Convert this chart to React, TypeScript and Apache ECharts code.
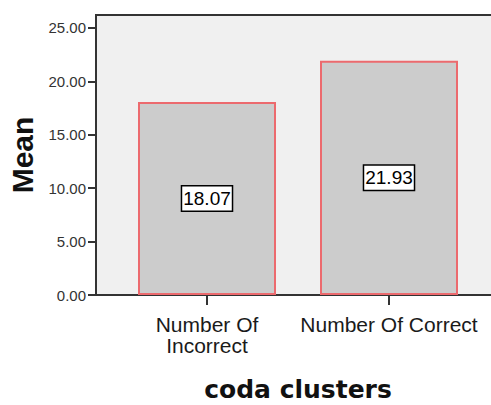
import React, { useEffect, useRef } from "react";
import * as echarts from "echarts";

const categories = ["Number Of\nIncorrect", "Number Of Correct"];
const means = [18.07, 21.93];
const yTicks = [0, 5, 10, 15, 20, 25];

export default function App() {
  const ref = useRef<HTMLDivElement>(null);
  useEffect(() => {
    if (!ref.current) return;
    const chart = echarts.init(ref.current, null, { renderer: "svg" });
    chart.setOption({
      animation: false,
      backgroundColor: "#ffffff",
      graphic: [
        {
          type: "rect",
          z: 0,
          shape: { x: 96, y: 15, width: 400, height: 280 },
          style: { fill: "#f0f0f0", stroke: "#333333", lineWidth: 2 },
          silent: true,
        },
      ],
      grid: {
        left: 116,
        right: 11,
        top: 15,
        bottom: 110,
        containLabel: false,
        outerBoundsMode: "none",
      },
      xAxis: {
        type: "category",
        data: categories,
        axisLine: { show: false },
        axisTick: {
          show: true,
          alignWithLabel: true,
          length: 10,
          lineStyle: { color: "#333333", width: 2 },
        },
        axisLabel: {
          margin: 19,
          interval: 0,
          color: "#1a1a1a",
          fontFamily: "Liberation Sans, Arial, sans-serif",
          fontSize: 21,
          lineHeight: 21,
        },
        name: "coda clusters",
        nameLocation: "middle",
        nameGap: 82,
        nameTextStyle: {
          color: "#111111",
          fontFamily: "DejaVu Sans, Verdana, sans-serif",
          fontWeight: "bold",
          fontSize: 25,
          lineHeight: 24,
        },
      },
      yAxis: {
        type: "value",
        min: 0,
        max: 26.2,
        interval: 5,
        offset: 20,
        splitLine: { show: false },
        axisLine: { show: true, lineStyle: { color: "#333333", width: 2 } },
        axisTick: {
          show: true,
          length: 8,
          customValues: yTicks,
          lineStyle: { color: "#333333", width: 2 },
        },
        axisLabel: {
          customValues: yTicks,
          margin: 10,
          color: "#333333",
          fontFamily: "Liberation Sans, Arial, sans-serif",
          fontSize: 15,
          formatter: (v: number) => v.toFixed(2),
        },
        name: "Mean",
        nameLocation: "middle",
        nameGap: 58,
        nameTextStyle: {
          color: "#111111",
          fontFamily: "Liberation Sans, Arial, sans-serif",
          fontWeight: "bold",
          fontSize: 30,
        },
      },
      series: [
        {
          type: "bar",
          data: means,
          barWidth: 138,
          itemStyle: {
            color: "#cccccc",
            borderColor: "#ec6a6e",
            borderWidth: 2,
          },
          label: {
            show: true,
            position: "inside",
            formatter: (p: any) => Number(p.value).toFixed(2),
            color: "#000000",
            fontFamily: "Liberation Sans, Arial, sans-serif",
            fontSize: 19,
            backgroundColor: "#ffffff",
            borderColor: "#000000",
            borderWidth: 1.5,
            padding: [3, 1, 2, 1],
          },
        },
      ],
    });
    return () => chart.dispose();
  }, []);
  return (
    <div
      ref={ref}
      style={{ position: "fixed", left: 0, top: 0, width: 491, height: 405 }}
    />
  );
}
